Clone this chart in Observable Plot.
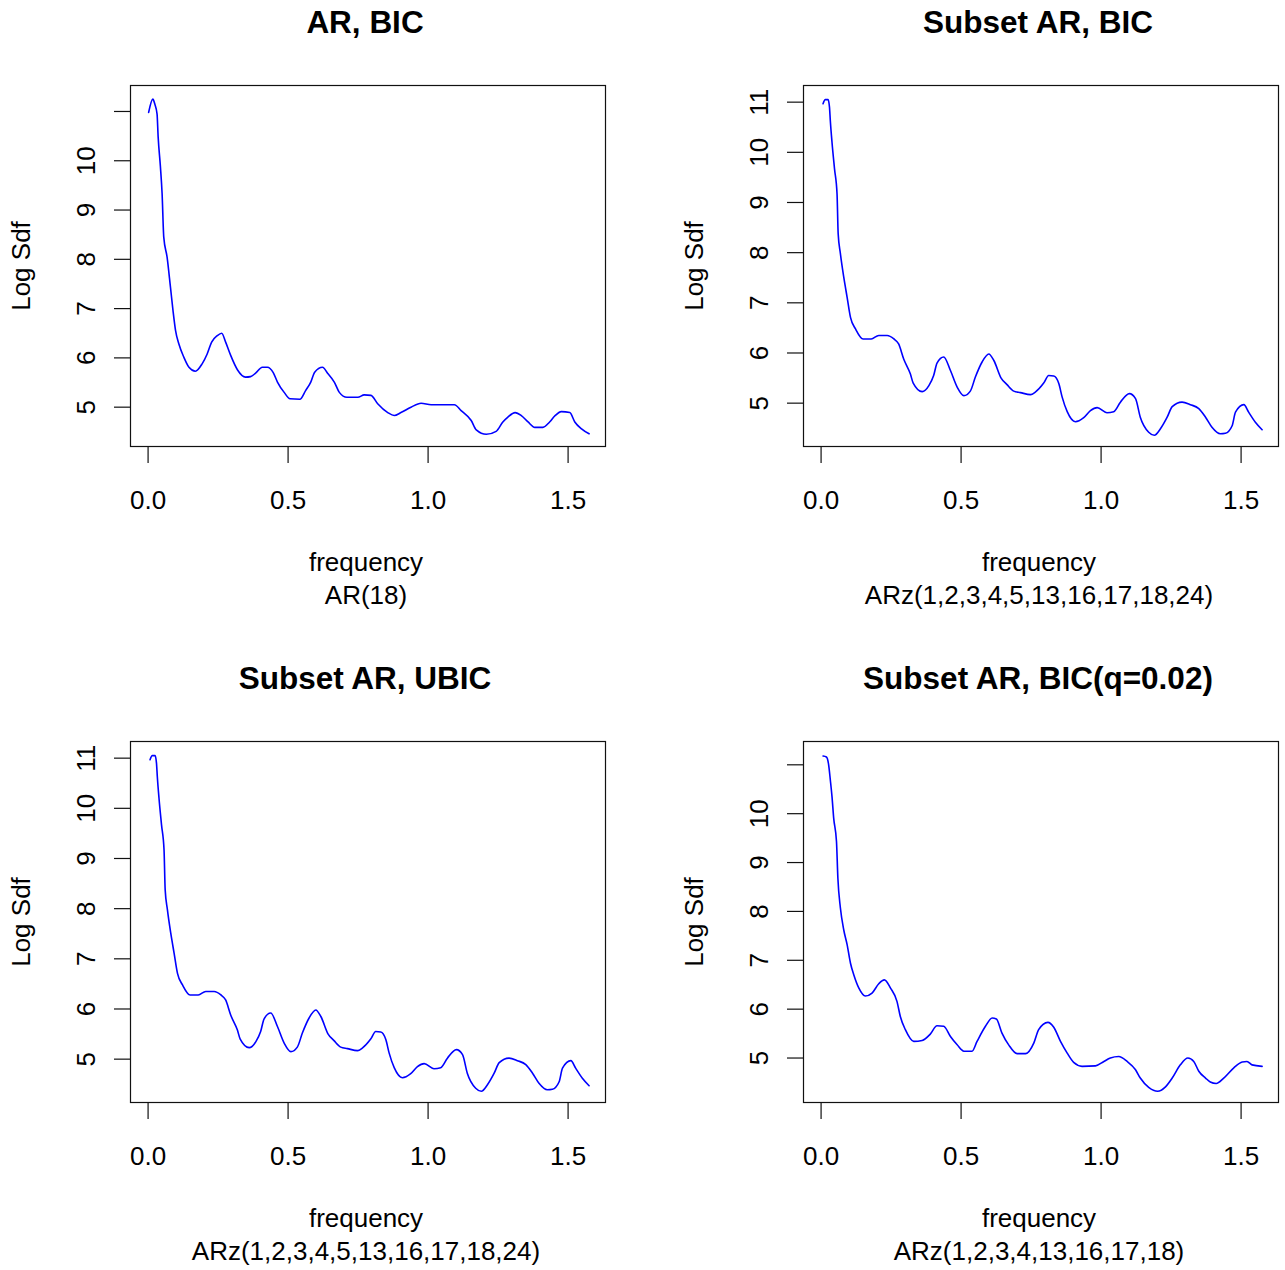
<!DOCTYPE html>
<html><head><meta charset="utf-8">
<script src="https://cdn.jsdelivr.net/npm/d3@7"></script>
<script src="https://cdn.jsdelivr.net/npm/@observablehq/plot@0.6"></script>
<style>
body{margin:0;background:#fff;}
#wrap{position:relative;width:1285px;height:1270px;overflow:hidden;background:#fff;}
.panel{position:absolute;}
</style></head><body><div id="wrap"></div>
<script>
// ---- data ----
const xTicks = [0, 0.5, 1.0, 1.5];
const yTicks = [5, 6, 7, 8, 9, 10, 11];
const titles = ["AR, BIC", "Subset AR, BIC", "Subset AR, UBIC", "Subset AR, BIC(q=0.02)"];
const subs = ["AR(18)", "ARz(1,2,3,4,5,13,16,17,18,24)", "ARz(1,2,3,4,5,13,16,17,18,24)", "ARz(1,2,3,4,13,16,17,18)"];
const xLabel = "frequency";
const yLabel = "Log Sdf";

// AR(18)
const freqAR = [0.002,0.017,0.024,0.032,0.036,0.044,0.050,0.056,0.068,0.080,0.089,0.098,0.110,0.128,0.146,0.169,0.193,0.211,0.227,0.247,0.263,0.277,0.295,0.319,0.348,0.366,0.384,0.408,0.426,0.447,0.462,0.486,0.507,0.542,0.563,0.581,0.595,0.623,0.641,0.665,0.683,0.710,0.749,0.772,0.796,0.820,0.856,0.879,0.903,0.939,0.975,1.011,1.094,1.118,1.154,1.172,1.208,1.243,1.267,1.285,1.311,1.333,1.357,1.381,1.410,1.434,1.452,1.476,1.506,1.524,1.548,1.575];
const sdfAR  = [10.98,11.25,11.15,10.95,10.48,9.88,9.34,8.45,8.04,7.43,6.96,6.56,6.28,6.01,5.81,5.73,5.88,6.08,6.32,6.45,6.50,6.32,6.05,5.76,5.61,5.62,5.69,5.81,5.81,5.70,5.51,5.30,5.17,5.16,5.34,5.51,5.71,5.81,5.69,5.51,5.30,5.20,5.20,5.25,5.24,5.07,4.89,4.83,4.89,5.00,5.08,5.05,5.05,4.93,4.73,4.54,4.45,4.51,4.70,4.80,4.89,4.83,4.70,4.59,4.59,4.70,4.82,4.91,4.89,4.70,4.56,4.46];

// ARz(1,2,3,4,5,13,16,17,18,24)
const freqZ10 = [0.007,0.015,0.025,0.030,0.033,0.039,0.048,0.057,0.061,0.069,0.081,0.093,0.105,0.123,0.150,0.179,0.206,0.236,0.260,0.277,0.295,0.319,0.329,0.361,0.385,0.402,0.414,0.438,0.462,0.486,0.510,0.533,0.551,0.575,0.599,0.617,0.643,0.664,0.688,0.712,0.748,0.765,0.795,0.813,0.831,0.849,0.861,0.879,0.908,0.938,0.962,0.986,1.021,1.045,1.069,1.101,1.123,1.140,1.170,1.190,1.212,1.236,1.254,1.289,1.319,1.349,1.373,1.396,1.426,1.444,1.468,1.480,1.510,1.527,1.551,1.575];
const sdfZ10  = [10.97,11.05,11.05,10.90,10.63,10.20,9.67,9.17,8.38,7.98,7.51,7.11,6.71,6.48,6.28,6.28,6.35,6.35,6.28,6.18,5.88,5.58,5.40,5.23,5.35,5.55,5.80,5.92,5.65,5.32,5.15,5.24,5.52,5.82,5.98,5.85,5.50,5.37,5.24,5.21,5.17,5.22,5.40,5.55,5.54,5.39,5.12,4.83,4.63,4.71,4.85,4.91,4.81,4.83,5.02,5.19,5.09,4.72,4.42,4.36,4.49,4.72,4.93,5.02,4.97,4.89,4.72,4.52,4.39,4.40,4.55,4.82,4.97,4.82,4.62,4.47];

// ARz(1,2,3,4,13,16,17,18)
const freqZ8 = [0.007,0.019,0.027,0.033,0.039,0.045,0.055,0.060,0.069,0.081,0.093,0.105,0.117,0.135,0.158,0.182,0.206,0.226,0.248,0.271,0.283,0.301,0.331,0.361,0.390,0.414,0.438,0.462,0.486,0.510,0.539,0.557,0.587,0.611,0.626,0.646,0.670,0.700,0.730,0.760,0.777,0.810,0.831,0.855,0.879,0.902,0.932,0.980,1.010,1.033,1.063,1.093,1.123,1.140,1.170,1.202,1.230,1.254,1.283,1.310,1.331,1.349,1.373,1.390,1.411,1.438,1.474,1.504,1.521,1.539,1.575];
const sdfZ8  = [11.18,11.16,11.00,10.69,10.35,9.91,9.43,8.68,8.07,7.62,7.32,6.94,6.70,6.43,6.27,6.33,6.52,6.60,6.43,6.16,5.85,5.58,5.34,5.36,5.49,5.66,5.65,5.44,5.27,5.14,5.14,5.34,5.65,5.82,5.80,5.51,5.27,5.09,5.09,5.31,5.58,5.73,5.63,5.34,5.10,4.91,4.83,4.84,4.93,5.00,5.03,4.93,4.76,4.59,4.40,4.32,4.41,4.59,4.86,5.00,4.93,4.73,4.59,4.51,4.48,4.59,4.80,4.92,4.93,4.86,4.83];

const series = [[freqAR, sdfAR], [freqZ10, sdfZ10], [freqZ10, sdfZ10], [freqZ8, sdfZ8]];
const labelledY = [[5,6,7,8,9,10], [5,6,7,8,9,10,11], [5,6,7,8,9,10,11], [5,6,7,8,9,10]];

// ---- layout ----
const panels = [
  {left: 0,   top: 0,   width: 673, height: 656, yDomain: [4.202, 11.527]},
  {left: 673, top: 0,   width: 612, height: 656, yDomain: [4.136, 11.332]},
  {left: 0,   top: 656, width: 673, height: 614, yDomain: [4.136, 11.332]},
  {left: 673, top: 656, width: 612, height: 614, yDomain: [4.090, 11.477]}
];
const FONT = "'Liberation Sans', Arial, Helvetica, sans-serif";
const wrap = document.getElementById("wrap");

panels.forEach((p, i) => {
  const [fx, fy] = series[i];
  const rows = fx.map((f, j) => ({f, v: fy[j]}));
  const marginLeft = 130, marginTop = 85, frameW = 475, frameH = 361;
  const chart = Plot.plot({
    width: p.width,
    height: p.height,
    marginLeft,
    marginTop,
    marginRight: p.width - marginLeft - frameW,
    marginBottom: p.height - marginTop - frameH,
    style: {fontFamily: FONT, fontSize: "26px", color: "black", background: "white", overflow: "visible"},
    x: {domain: [-0.0628, 1.6336]},
    y: {domain: p.yDomain},
    marks: [
      Plot.line(rows, {x: "f", y: "v", stroke: "#0000ff", strokeWidth: 1.6, curve: "monotone-x"}),
      Plot.frame({stroke: "#111", strokeWidth: 1.2}),
      Plot.axisX({ticks: xTicks, tickSize: 17, tickFormat: () => "", stroke: "#111", strokeWidth: 1.2, label: null}),
      Plot.axisY({ticks: yTicks, tickSize: 16, tickFormat: () => "", stroke: "#111", strokeWidth: 1.2, label: null}),
      Plot.text(xTicks, {x: d => d, frameAnchor: "bottom", dy: 62, lineAnchor: "bottom", textAnchor: "middle",
        text: d => d.toFixed(1), fontSize: 26, fill: "black"}),
      Plot.text(labelledY[i], {y: d => d, frameAnchor: "left", dx: -36, rotate: -90, lineAnchor: "bottom",
        textAnchor: "middle", text: d => String(d), fontSize: 26, fill: "black"}),
      Plot.text([titles[i]], {frameAnchor: "top", dx: -3, dy: -53, lineAnchor: "bottom", textAnchor: "middle",
        fontSize: 31.5, fontWeight: "bold", fill: "black"}),
      Plot.text([xLabel], {frameAnchor: "bottom", dx: -2, dy: 124, lineAnchor: "bottom", textAnchor: "middle",
        fontSize: 26, fill: "black"}),
      Plot.text([subs[i]], {frameAnchor: "bottom", dx: -2, dy: 157, lineAnchor: "bottom", textAnchor: "middle",
        fontSize: 26, fill: "black"}),
      Plot.text([yLabel], {frameAnchor: "left", dx: -101, rotate: -90, lineAnchor: "bottom", textAnchor: "middle",
        fontSize: 26, fill: "black"})
    ]
  });
  const div = document.createElement("div");
  div.className = "panel";
  div.style.left = p.left + "px";
  div.style.top = p.top + "px";
  div.appendChild(chart);
  wrap.appendChild(div);
});
</script>
</body></html>
